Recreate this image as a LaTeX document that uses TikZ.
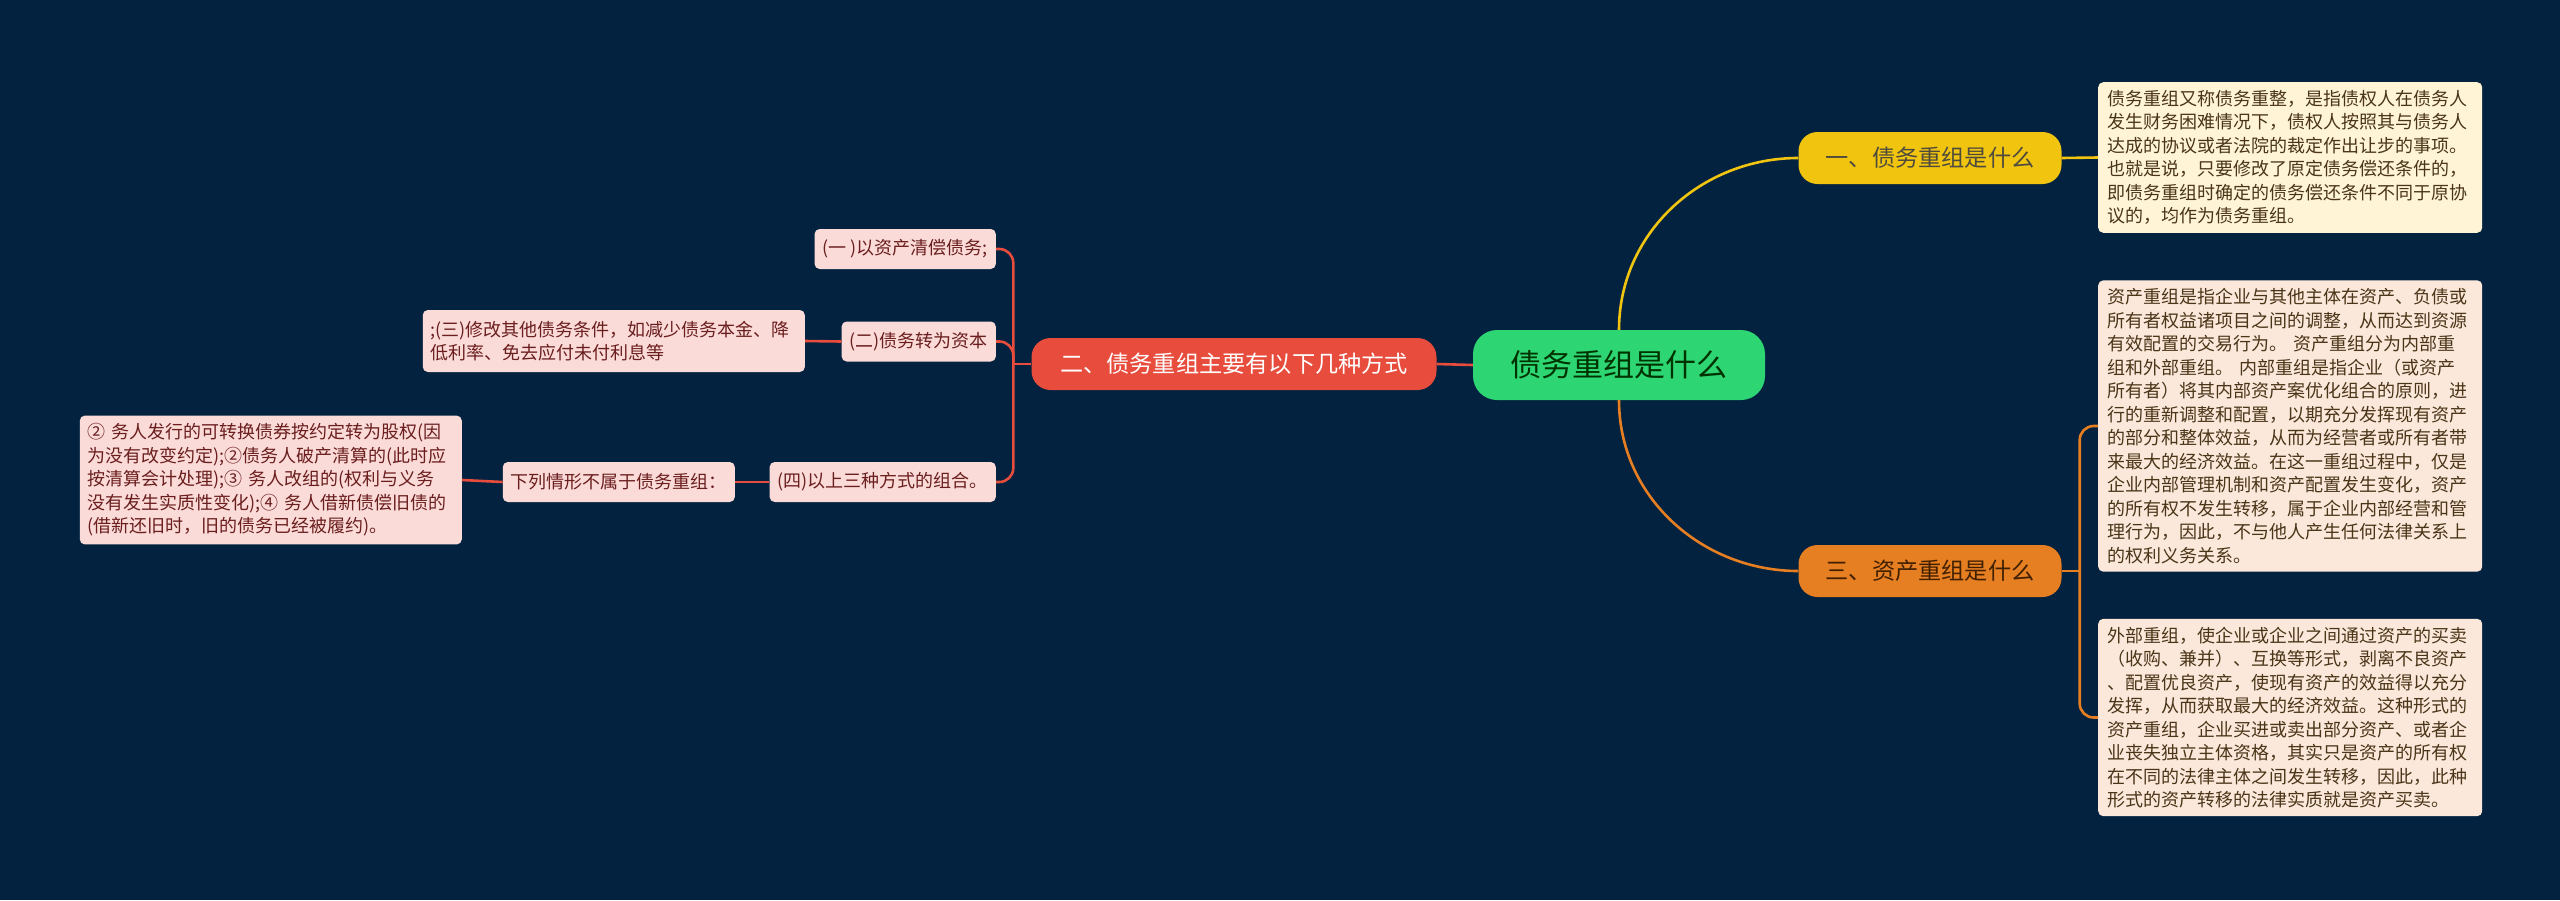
\documentclass[tikz,border=0pt]{standalone}
\usepackage{fontspec}
\setmainfont{Noto Sans CJK SC}
\usepackage{tikz}
\usetikzlibrary{positioning,calc}
\definecolor{bgnavy}{HTML}{03223F}
\definecolor{hubgreen}{HTML}{2ED573}
\definecolor{branchyellow}{HTML}{F1C40F}
\definecolor{branchorange}{HTML}{E67E22}
\definecolor{branchred}{HTML}{E74C3C}
\definecolor{notecream}{HTML}{FFF4D6}
\definecolor{notepeach}{HTML}{FBE8DA}
\definecolor{leafpink}{HTML}{FADBD8}
\definecolor{leaftext}{HTML}{6B1E1E}
\definecolor{notetext}{HTML}{4A3518}

\begin{document}
\begin{tikzpicture}[
    x=1pt,
    y=-1pt,
    hub/.style={
        rectangle,
        rounded corners=24pt,
        fill=hubgreen,
        minimum width=292pt,
        minimum height=70pt,
        text=black!80!green,
        font=\fontsize{31}{35}\selectfont
    },
    branch/.style={
        rectangle,
        rounded corners=19pt,
        minimum height=52pt,
        inner xsep=14pt,
        font=\fontsize{23.2}{27}\selectfont
    },
    note/.style={
        rectangle,
        rounded corners=5pt,
        text width=366pt,
        align=left,
        inner xsep=9pt,
        inner ysep=8pt,
        text=notetext,
        font=\fontsize{18}{23.5}\selectfont
    },
    leaf/.style={
        rectangle,
        rounded corners=5pt,
        fill=leafpink,
        minimum height=40pt,
        inner xsep=8pt,
        text=leaftext,
        font=\fontsize{18}{23.5}\selectfont
    },
    link/.style={line width=2.6pt}
]
% Background and page size
\fill[bgnavy] (0,0) rectangle (2560,900);
\useasboundingbox (0,0) rectangle (2560,900);

% Central topic
\node[hub] (root) at (1619,365) {债务重组是什么};

% Main branches
\node[branch, fill=branchyellow, minimum width=263pt, text=black!80!yellow] (m1) at (1930,158) {一、债务重组是什么};
\node[branch, fill=branchorange, minimum width=263pt, text=black!75!orange] (m3) at (1930,571) {三、资产重组是什么};
\node[branch, fill=branchred, minimum width=405pt, text=white] (m2) at (1234,364) {二、债务重组主要有以下几种方式};

% Notes on the right
\node[note, fill=notecream, anchor=west] (n1) at (2098,157.5) {债务重组又称债务重整，是指债权人在债务人\\发生财务困难情况下，债权人按照其与债务人\\达成的协议或者法院的裁定作出让步的事项。\\也就是说，只要修改了原定债务偿还条件的，\\即债务重组时确定的债务偿还条件不同于原协\\议的，均作为债务重组。};
\node[note, fill=notepeach, anchor=west] (n2) at (2098,426) {资产重组是指企业与其他主体在资产、负债或\\所有者权益诸项目之间的调整，从而达到资源\\有效配置的交易行为。 资产重组分为内部重\\组和外部重组。 内部重组是指企业（或资产\\所有者）将其内部资产案优化组合的原则，进\\行的重新调整和配置，以期充分发挥现有资产\\的部分和整体效益，从而为经营者或所有者带\\来最大的经济效益。在这一重组过程中，仅是\\企业内部管理机制和资产配置发生变化，资产\\的所有权不发生转移，属于企业内部经营和管\\理行为，因此，不与他人产生任何法律关系上\\的权利义务关系。};
\node[note, fill=notepeach, anchor=west] (n3) at (2098,717.5) {外部重组，使企业或企业之间通过资产的买卖\\（收购、兼并）、互换等形式，剥离不良资产\\、配置优良资产，使现有资产的效益得以充分\\发挥，从而获取最大的经济效益。这种形式的\\资产重组，企业买进或卖出部分资产、或者企\\业丧失独立主体资格，其实只是资产的所有权\\在不同的法律主体之间发生转移，因此，此种\\形式的资产转移的法律实质就是资产买卖。};

% Leaves on the left
\node[leaf, anchor=east] (w1) at (996,249) {(一 )以资产清偿债务;};
\node[leaf, anchor=east] (w2) at (996,341.5) {(二)债务转为资本};
\node[leaf, anchor=east, minimum height=62pt, text width=366pt, align=left] (w2a) at (805,341) {;(三)修改其他债务条件，如减少债务本金、降\\低利率、免去应付未付利息等};
\node[leaf, anchor=east] (w4) at (996,482) {(四)以上三种方式的组合。};
\node[leaf, anchor=east] (w4a) at (735,482) {下列情形不属于债务重组：};
\node[leaf, anchor=east, text width=366pt, align=left, inner ysep=8pt] (w4b) at (462,480) {② 务人发行的可转换债券按约定转为股权(因\\为没有改变约定);②债务人破产清算的(此时应\\按清算会计处理);③ 务人改组的(权利与义务\\没有发生实质性变化);④ 务人借新债偿旧债的\\(借新还旧时，旧的债务已经被履约)。};

% Junctions of the brackets
\coordinate (j2) at ($(m2.west)+(-18,0)$);
\coordinate (j3) at ($(m3.east)+(18,0)$);

% Edges from the central topic
\draw[link, branchyellow] (root.north) to[out=90, in=180] (m1.west);
\draw[link, branchorange] (root.south) to[out=-90, in=180] (m3.west);
\draw[link, branchred] (root.west) -- (m2.east);

% Edges of the yellow branch
\draw[link, branchyellow] (m1.east) -- (n1.west);

% Edges of the orange branch
\draw[link, branchorange] (m3.east) -- (j3);
\draw[link, branchorange, rounded corners=14pt] (j3) |- (n2.west);
\draw[link, branchorange, rounded corners=14pt] (j3) |- (n3.west);

% Edges of the red branch
\draw[link, branchred] (m2.west) -- (j2);
\draw[link, branchred, rounded corners=14pt] (j2) |- (w1.east);
\draw[link, branchred, rounded corners=14pt] (j2) |- (w2.east);
\draw[link, branchred, rounded corners=14pt] (j2) |- (w4.east);
\draw[link, branchred] (w2.west) -- (w2a.east);
\draw[link, branchred] (w4.west) -- (w4a.east);
\draw[link, branchred] (w4a.west) -- (w4b.east);
\end{tikzpicture}
\end{document}
